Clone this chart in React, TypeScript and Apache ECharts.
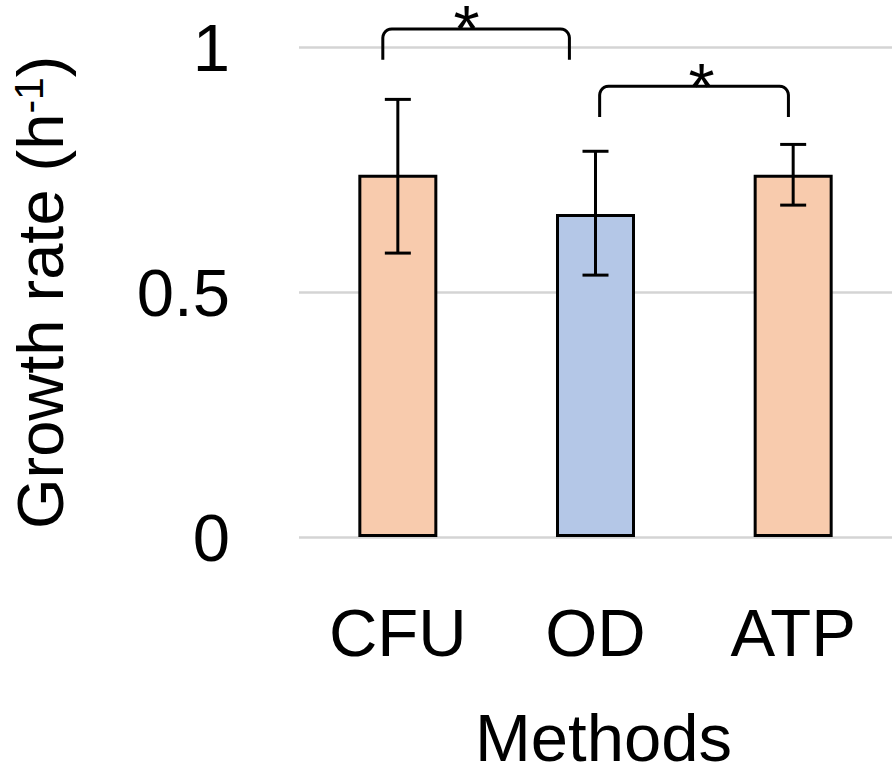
import React, { useEffect, useRef } from "react";
import * as echarts from "echarts";

const categories = ["CFU", "OD", "ATP"];
const means = [0.74, 0.66, 0.74];
const errLow = [0.58, 0.535, 0.678];
const errHigh = [0.894, 0.788, 0.802];
const barColors = ["#F8CBAD", "#B4C7E7", "#F8CBAD"];
// significance brackets: [leftX, rightX, topY, endY, starX] in data units (x: category index)
const brackets = [
  [-0.076, 0.868, 1.038, 0.975, 0.347],
  [1.021, 1.976, 0.921, 0.858, 1.536],
];
const starLabel = "*";
const yAxisTitle = "Growth rate (h{sup|-1})";
const xAxisTitle = "Methods";

const FONT = 'Arial, "Liberation Sans", Helvetica, sans-serif';

function roundedBracket(x1: number, x2: number, yt: number, yb: number, r: number) {
  const pts: number[][] = [];
  pts.push([x1, yb]);
  const n = 6;
  for (let i = 0; i <= n; i++) {
    const a = Math.PI + (Math.PI / 2) * (i / n);
    pts.push([x1 + r + r * Math.cos(a), yt + r + r * Math.sin(a)]);
  }
  for (let i = 0; i <= n; i++) {
    const a = -Math.PI / 2 + (Math.PI / 2) * (i / n);
    pts.push([x2 - r + r * Math.cos(a), yt + r + r * Math.sin(a)]);
  }
  pts.push([x2, yb]);
  return pts;
}

export default function App() {
  const ref = useRef<HTMLDivElement>(null);
  useEffect(() => {
    document.body.style.margin = "0";
    const chart = echarts.init(ref.current!, null, { renderer: "svg" });
    chart.setOption({
      animation: false,
      backgroundColor: "#ffffff",
      grid: { left: 291, right: 2, top: 47.5, bottom: 231, containLabel: false },
      xAxis: [
        {
          type: "category",
          data: categories,
          axisLine: { show: false },
          axisTick: { show: false },
          axisLabel: { color: "#000", fontSize: 67, fontFamily: FONT, margin: 62 },
          name: xAxisTitle,
          nameLocation: "middle",
          nameGap: 167,
          nameTextStyle: { color: "#000", fontSize: 67, fontFamily: FONT, padding: [0, 0, 0, 16] },
        },
        { type: "value", min: -0.5, max: 2.5, show: false },
      ],
      yAxis: {
        type: "value",
        min: 0,
        max: 1,
        interval: 0.5,
        axisLine: { show: false },
        axisTick: { show: false },
        axisLabel: { color: "#000", fontSize: 67, fontFamily: FONT, margin: 69 },
        splitLine: { lineStyle: { color: "#D4D4D4", width: 2.5 } },
        name: yAxisTitle,
        nameLocation: "middle",
        nameGap: 226,
        nameTextStyle: {
          color: "#000",
          fontSize: 65,
          fontFamily: FONT,
          rich: {
            sup: { fontSize: 41, fontFamily: FONT, color: "#000", verticalAlign: "top" },
          },
        },
      },
      series: [
        {
          type: "bar",
          barWidth: 79,
          data: means.map((v, i) => ({
            value: v,
            itemStyle: { color: barColors[i], borderColor: "#000", borderWidth: 3 },
          })),
          z: 2,
        },
        {
          type: "custom",
          z: 3,
          data: categories.map((_, i) => [i, errLow[i], errHigh[i]]),
          renderItem: (params: any, api: any) => {
            const lo = api.coord([api.value(0), api.value(1)]);
            const hi = api.coord([api.value(0), api.value(2)]);
            const cw = 13;
            const st = { stroke: "#000", lineWidth: 3 };
            return {
              type: "group",
              children: [
                { type: "line", shape: { x1: lo[0], y1: lo[1], x2: hi[0], y2: hi[1] }, style: st },
                { type: "line", shape: { x1: lo[0] - cw, y1: lo[1], x2: lo[0] + cw, y2: lo[1] }, style: st },
                { type: "line", shape: { x1: hi[0] - cw, y1: hi[1], x2: hi[0] + cw, y2: hi[1] }, style: st },
              ],
            };
          },
        },
        {
          type: "custom",
          xAxisIndex: 1,
          clip: false,
          z: 4,
          data: brackets,
          renderItem: (params: any, api: any) => {
            const l = api.coord([api.value(0), api.value(2)]);
            const r = api.coord([api.value(1), api.value(2)]);
            const yb = api.coord([api.value(0), api.value(3)])[1];
            const s = api.coord([api.value(4), api.value(2)]);
            return {
              type: "group",
              children: [
                {
                  type: "polyline",
                  shape: { points: roundedBracket(l[0], r[0], l[1], yb, 9) },
                  style: { stroke: "#000", lineWidth: 3, fill: null },
                },
                {
                  type: "text",
                  x: s[0],
                  y: s[1],
                  style: {
                    text: starLabel,
                    fontSize: 67,
                    lineHeight: 40,
                    fontFamily: FONT,
                    fill: "#000",
                    align: "center",
                    verticalAlign: "middle",
                  },
                },
              ],
            };
          },
        },
      ],
    });
    return () => chart.dispose();
  }, []);
  return (
    <div
      ref={ref}
      style={{ position: "fixed", left: 0, top: 0, width: 894, height: 776 }}
    />
  );
}
